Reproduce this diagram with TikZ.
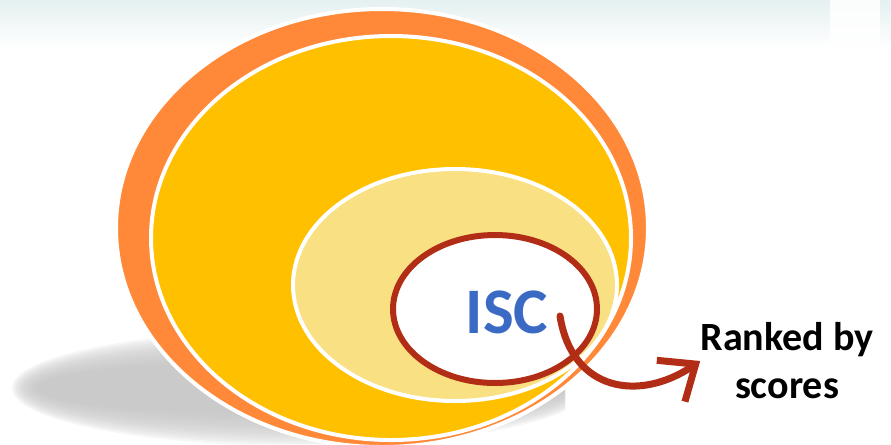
\documentclass[tikz,border=0pt]{standalone}
\usepackage{fontspec}
\setmainfont{Carlito}
\usetikzlibrary{arrows.meta,shapes.geometric}
\definecolor{outerorange}{RGB}{255,137,56}
\definecolor{midyellow}{RGB}{255,192,0}
\definecolor{paleyellow}{RGB}{249,224,130}
\definecolor{iscred}{RGB}{178,45,22}
\definecolor{iscblue}{RGB}{59,106,197}
\definecolor{bandtop}{RGB}{229,240,240}

\begin{document}
\begin{tikzpicture}[x=0.02cm,y=-0.02cm,
   blob/.style={draw=white,line width=0.08cm},
   ring/.style={ellipse,draw=iscred,fill=white,line width=0.12cm,
                minimum width=4.08cm,minimum height=2.96cm,inner sep=0pt},
   rankarrow/.style={draw=iscred,line width=0.14cm,line cap=round,
                -{Straight Barb[length=0.6cm,width=1cm]}}]
   \useasboundingbox (0,0) rectangle (891,444);
   \fill[white] (0,0) rectangle (891,444);
   \shade[top color=bandtop,bottom color=white] (0,0) rectangle (891,48);
   \fill[white,opacity=0.85] (830,0) rectangle (880,50);

   \begin{scope}
      \clip (0,0) rectangle (565,444);
      \foreach \k in {0,...,13}
         \fill[black!22,opacity=0.15]
            (300,388) ellipse ({288-2*\k} and {58-2.5*\k});
   \end{scope}

   \filldraw[blob,fill=outerorange] (382,228) ellipse (266 and 219);
   \filldraw[blob,fill=midyellow] (391,238) ellipse (240 and 202);
   \filldraw[blob,fill=paleyellow] (455,285) ellipse (162 and 116);

   \node[ring] (ring) at (495,309) {};
   \node[text=iscblue,font=\bfseries\fontsize{37}{40}\selectfont] (isc) at (507,312) {ISC};
   \node[inner sep=0pt,align=center,font=\bfseries\fontsize{22.8}{27.3}\selectfont]
      (rank) at (787,361) {Ranked by\\scores};

   \coordinate (brush) at (560,316);
   \draw[rankarrow] (brush) .. controls (572,392) and (640,402) .. (rank.west);
\end{tikzpicture}
\end{document}
